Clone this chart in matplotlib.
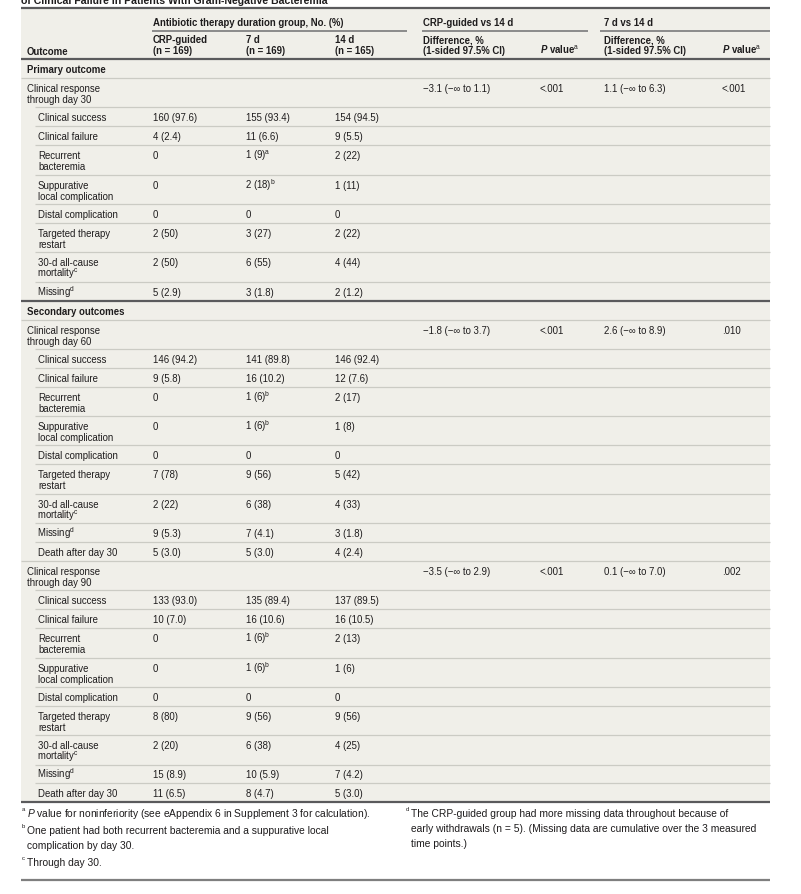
import matplotlib
matplotlib.use('Agg')
import matplotlib.pyplot as plt
from matplotlib.patches import Rectangle

# ---------------- table content ----------------
title_tail = 'of Clinical Failure in Patients With Gram-Negative Bacteremia'

group_header = 'Antibiotic therapy duration group, No. (%)'
group_cols = ['CRP-guided\n(n = 169)', '7 d\n(n = 169)', '14 d\n(n = 165)']
compare_headers = ['CRP-guided vs 14 d', '7 d vs 14 d']
diff_header = 'Difference, %\n(1-sided 97.5% CI)'
pval_header = r'$\mathbfit{P}$ value$^{\mathrm{a}}$'

sub_labels = ['Clinical success', 'Clinical failure', 'Recurrent\nbacteremia',
              'Suppurative\nlocal complication', 'Distal complication',
              'Targeted therapy\nrestart', '30-d all-cause\nmortality$^{\\mathrm{c}}$',
              'Missing$^{\\mathrm{d}}$', 'Death after day 30']

# day 30 (no "death after day 30" row)
d30_crp = ['160 (97.6)', '4 (2.4)', '0', '0', '0', '2 (50)', '2 (50)', '5 (2.9)']
d30_7d = ['155 (93.4)', '11 (6.6)', '1 (9)$^{\\mathrm{a}}$', '2 (18)$^{\\mathrm{b}}$', '0', '3 (27)', '6 (55)', '3 (1.8)']
d30_14d = ['154 (94.5)', '9 (5.5)', '2 (22)', '1 (11)', '0', '2 (22)', '4 (44)', '2 (1.2)']

d60_crp = ['146 (94.2)', '9 (5.8)', '0', '0', '0', '7 (78)', '2 (22)', '9 (5.3)', '5 (3.0)']
d60_7d = ['141 (89.8)', '16 (10.2)', '1 (6)$^{\\mathrm{b}}$', '1 (6)$^{\\mathrm{b}}$', '0', '9 (56)', '6 (38)', '7 (4.1)', '5 (3.0)']
d60_14d = ['146 (92.4)', '12 (7.6)', '2 (17)', '1 (8)', '0', '5 (42)', '4 (33)', '3 (1.8)', '4 (2.4)']

d90_crp = ['133 (93.0)', '10 (7.0)', '0', '0', '0', '8 (80)', '2 (20)', '15 (8.9)', '11 (6.5)']
d90_7d = ['135 (89.4)', '16 (10.6)', '1 (6)$^{\\mathrm{b}}$', '1 (6)$^{\\mathrm{b}}$', '0', '9 (56)', '6 (38)', '10 (5.9)', '8 (4.7)']
d90_14d = ['137 (89.5)', '16 (10.5)', '2 (13)', '1 (6)', '0', '9 (56)', '4 (25)', '7 (4.2)', '5 (3.0)']

periods = ['30', '60', '90']
crp_vs_14 = ['\u22123.1 (\u2212\u221e to 1.1)', '\u22121.8 (\u2212\u221e to 3.7)', '\u22123.5 (\u2212\u221e to 2.9)']
crp_p = ['<.001', '<.001', '<.001']
d7_vs_14 = ['1.1 (\u2212\u221e to 6.3)', '2.6 (\u2212\u221e to 8.9)', '0.1 (\u2212\u221e to 7.0)']
d7_p = ['<.001', '.010', '.002']

footnotes_left = [
    ('a', r'$\mathit{P}$ value for noninferiority (see eAppendix 6 in Supplement 3 for calculation).'),
    ('b', 'One patient had both recurrent bacteremia and a suppurative local\ncomplication by day 30.'),
    ('c', 'Through day 30.'),
]
footnotes_right = [
    ('d', 'The CRP-guided group had more missing data throughout because of\nearly withdrawals (n = 5). (Missing data are cumulative over the 3 measured\ntime points.)'),
]

# ---------------- styling ----------------
W, H = 801, 895
BG = '#f0efe9'
INK = '#1e1c1d'
DARK = '#5a5a5c'
LIGHT = '#cbcbc4'
BODY = ['Liberation Sans', 'DejaVu Sans']
FS = 6.9

plt.rcParams['font.family'] = BODY
plt.rcParams['mathtext.fontset'] = 'custom'
plt.rcParams['mathtext.rm'] = 'Liberation Sans'
plt.rcParams['mathtext.it'] = 'Liberation Sans:italic'
plt.rcParams['mathtext.bf'] = 'Liberation Sans:bold'
plt.rcParams['mathtext.bfit'] = 'Liberation Sans:italic:bold'

X0, X1 = 21, 770
LABEL_X, SUB_X, SUB_RULE_X = 27, 38, 35
GROUP_X = [153, 246, 335]
CMP_X = [423, 540, 604, 722]
SINGLE, DOUBLE = 19.0, 29.3
LINE = 11

fig = plt.figure(figsize=(W / 100, H / 100), dpi=100)
ax = fig.add_axes([0, 0, 1, 1])
ax.set_xlim(0, W)
ax.set_ylim(H, 0)
ax.axis('off')


def txt(x, y, s, bold=False, size=FS, color=INK):
    # mathtext strings get a tiny extra left bearing, pull them back
    if '$' in s and not s.startswith('$'):
        x -= 0.8
    ax.text(x, y, s, fontsize=size, fontweight='bold' if bold else 'normal',
            color=color, va='baseline', ha='left')


def multiline(x, y, s, **kw):
    for i, line in enumerate(s.split('\n')):
        txt(x, y + i * LINE, line, **kw)


def rule(y, x0=X0, x1=X1, color=LIGHT, lw=0.9):
    ax.plot([x0, x1], [y, y], color=color, lw=lw, solid_capstyle='butt')


# background panel
ax.add_patch(Rectangle((X0, 9), X1 - X0, 793, facecolor=BG, edgecolor='none', zorder=0))

# title line, cut off by the top edge as in the source
txt(X0, 3.5, title_tail, bold=True, size=7.6)

# header
rule(9, color=DARK, lw=1.6)
txt(GROUP_X[0], 26, group_header, bold=True)
rule(32, GROUP_X[0] - 1, 407, color='#707072', lw=1.1)
txt(CMP_X[0], 26, compare_headers[0], bold=True)
rule(32, CMP_X[0] - 1, 588, color='#707072', lw=1.1)
txt(CMP_X[2], 26, compare_headers[1], bold=True)
rule(32, CMP_X[2] - 4, X1, color='#707072', lw=1.1)
for x, s in zip(GROUP_X, group_cols):
    multiline(x, 43, s, bold=True)
multiline(CMP_X[0], 43, diff_header, bold=True)
multiline(CMP_X[2], 43, diff_header, bold=True)
txt(CMP_X[1], 54, pval_header, bold=True)
txt(CMP_X[3], 54, pval_header, bold=True)
txt(LABEL_X, 55, 'Outcome', bold=True)
rule(60, color=DARK, lw=1.6)

# body rows
blocks = [
    ('Primary outcome', [0]),
    ('Secondary outcomes', [1, 2]),
]
group_vals = [(d30_crp, d30_7d, d30_14d), (d60_crp, d60_7d, d60_14d), (d90_crp, d90_7d, d90_14d)]

y = 60.0
for bi, (section, idxs) in enumerate(blocks):
    txt(LABEL_X, y + 13, section, bold=True)
    y += SINGLE
    rule(y)
    for gi, k in enumerate(idxs):
        label = 'Clinical response\nthrough day ' + periods[k]
        multiline(LABEL_X, y + 13, label)
        for x, s in zip(CMP_X, [crp_vs_14[k], crp_p[k], d7_vs_14[k], d7_p[k]]):
            txt(x, y + 13, s)
        y += DOUBLE
        rule(y, SUB_RULE_X)
        crp, d7, d14 = group_vals[k]
        n = len(crp)
        for i in range(n):
            lab = sub_labels[i]
            h = DOUBLE if '\n' in lab else SINGLE
            multiline(SUB_X, y + 13, lab)
            for x, s in zip(GROUP_X, [crp[i], d7[i], d14[i]]):
                txt(x, y + 13, s)
            y += h
            if i < n - 1:
                rule(y, SUB_RULE_X)
            elif gi < len(idxs) - 1:
                rule(y)
            else:
                rule(y, color=DARK, lw=1.6)


# footnotes
def footnote(x, y, mark, body):
    txt(x, y - 3, '$^{\\mathrm{%s}}$' % mark, size=6.2)
    lines = body.split('\n')
    for i, line in enumerate(lines):
        txt(x + 6, y + i * 15, line, size=7.4)
    return y + (len(lines) - 1) * 15


fy = 817
for mark, body in footnotes_left:
    fy = footnote(X0, fy, mark, body) + 17
fy = 817
for mark, body in footnotes_right:
    footnote(405, fy, mark, body)

rule(881, color='#7f7f7f', lw=1.6)

fig.savefig('out.png', dpi=100, facecolor='white')
